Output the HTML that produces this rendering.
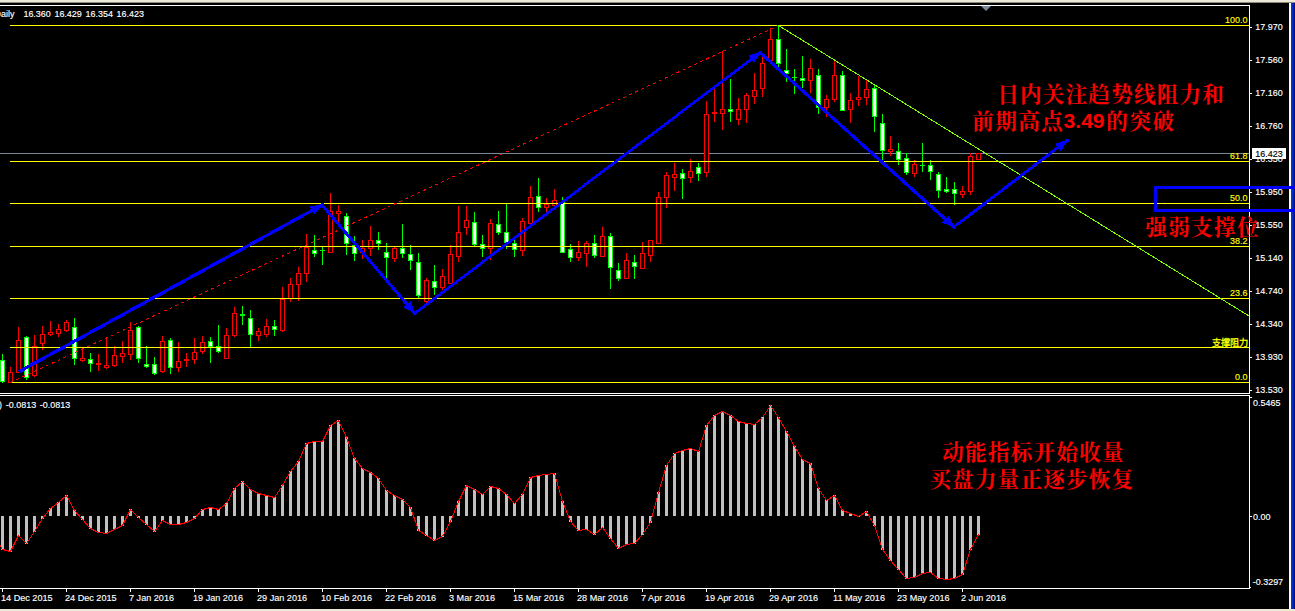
<!DOCTYPE html>
<html><head><meta charset="utf-8"><title>chart</title>
<style>
html,body{margin:0;padding:0;background:#000;overflow:hidden}
svg{display:block}
text{font-family:"Liberation Sans",sans-serif;}
</style></head><body>
<svg width="1295" height="611" viewBox="0 0 1295 611">
<rect x="0" y="0" width="1295" height="611" fill="#000"/>
<g shape-rendering="crispEdges">
<rect x="0" y="0" width="1295" height="2" fill="#ece9d8"/><rect x="0" y="2" width="1295" height="1" fill="#8c8a7d"/><rect x="0" y="609" width="1295" height="2" fill="#ece9d8"/><rect x="0" y="5" width="1250" height="1" fill="#fff"/><rect x="1249" y="5" width="1" height="389" fill="#fff"/><rect x="0" y="393" width="1250" height="1" fill="#fff"/><rect x="0" y="395" width="1250" height="1" fill="#fff"/><rect x="1249" y="395" width="1" height="194" fill="#fff"/><rect x="0" y="588" width="1250" height="1" fill="#fff"/><rect x="1289" y="3" width="1" height="606" fill="#fffef2"/><rect x="1290" y="3" width="1" height="606" fill="#fff"/><rect x="1291" y="3" width="1" height="606" fill="#0831d9"/><rect x="1292" y="3" width="1" height="606" fill="#0430c8"/><rect x="1293" y="3" width="1" height="606" fill="#001ea0"/><rect x="1294" y="3" width="1" height="606" fill="#00138c"/>
</g>
<g shape-rendering="crispEdges"><rect x="0" y="153" width="1249" height="1" fill="#778899"/></g>
<g shape-rendering="crispEdges">
<rect x="2" y="354" width="1" height="29" fill="#00ff00"/><rect x="0" y="360" width="5" height="22" fill="#00ff00"/><rect x="1" y="361" width="3" height="20" fill="#fff"/><rect x="10" y="367" width="1" height="16" fill="#ff0000"/><rect x="8" y="372" width="5" height="11" fill="#ff0000"/><rect x="9" y="373" width="3" height="9" fill="#000"/><rect x="18" y="327" width="1" height="46" fill="#ff0000"/><rect x="16" y="340" width="5" height="33" fill="#ff0000"/><rect x="17" y="341" width="3" height="31" fill="#000"/><rect x="26" y="336" width="1" height="44" fill="#00ff00"/><rect x="24" y="337" width="5" height="41" fill="#00ff00"/><rect x="25" y="338" width="3" height="39" fill="#fff"/><rect x="34" y="335" width="1" height="42" fill="#ff0000"/><rect x="32" y="346" width="5" height="30" fill="#ff0000"/><rect x="33" y="347" width="3" height="28" fill="#000"/><rect x="42" y="326" width="1" height="24" fill="#ff0000"/><rect x="40" y="334" width="5" height="10" fill="#ff0000"/><rect x="41" y="335" width="3" height="8" fill="#000"/><rect x="50" y="321" width="1" height="15" fill="#ff0000"/><rect x="48" y="332" width="5" height="3" fill="#ff0000"/><rect x="49" y="333" width="3" height="1" fill="#000"/><rect x="58" y="324" width="1" height="13" fill="#ff0000"/><rect x="56" y="329" width="5" height="5" fill="#ff0000"/><rect x="57" y="330" width="3" height="3" fill="#000"/><rect x="66" y="320" width="1" height="12" fill="#ff0000"/><rect x="64" y="322" width="5" height="9" fill="#ff0000"/><rect x="65" y="323" width="3" height="7" fill="#000"/><rect x="74" y="318" width="1" height="47" fill="#00ff00"/><rect x="72" y="327" width="5" height="32" fill="#00ff00"/><rect x="73" y="328" width="3" height="30" fill="#fff"/><rect x="82" y="348" width="1" height="14" fill="#ff0000"/><rect x="80" y="358" width="5" height="3" fill="#ff0000"/><rect x="81" y="359" width="3" height="1" fill="#000"/><rect x="90" y="353" width="1" height="19" fill="#00ff00"/><rect x="88" y="359" width="5" height="5" fill="#00ff00"/><rect x="89" y="360" width="3" height="3" fill="#fff"/><rect x="98" y="354" width="1" height="17" fill="#ff0000"/><rect x="96" y="363" width="5" height="2" fill="#ff0000"/><rect x="106" y="337" width="1" height="32" fill="#ff0000"/><rect x="104" y="365" width="5" height="3" fill="#ff0000"/><rect x="105" y="366" width="3" height="1" fill="#000"/><rect x="114" y="346" width="1" height="21" fill="#ff0000"/><rect x="112" y="355" width="5" height="11" fill="#ff0000"/><rect x="113" y="356" width="3" height="9" fill="#000"/><rect x="122" y="341" width="1" height="22" fill="#ff0000"/><rect x="120" y="353" width="5" height="4" fill="#ff0000"/><rect x="121" y="354" width="3" height="2" fill="#000"/><rect x="130" y="322" width="1" height="38" fill="#ff0000"/><rect x="128" y="330" width="5" height="25" fill="#ff0000"/><rect x="129" y="331" width="3" height="23" fill="#000"/><rect x="138" y="326" width="1" height="37" fill="#00ff00"/><rect x="136" y="327" width="5" height="32" fill="#00ff00"/><rect x="137" y="328" width="3" height="30" fill="#fff"/><rect x="146" y="346" width="1" height="22" fill="#00ff00"/><rect x="144" y="364" width="5" height="3" fill="#00ff00"/><rect x="145" y="365" width="3" height="1" fill="#fff"/><rect x="154" y="357" width="1" height="18" fill="#00ff00"/><rect x="152" y="364" width="5" height="10" fill="#00ff00"/><rect x="153" y="365" width="3" height="8" fill="#fff"/><rect x="162" y="336" width="1" height="37" fill="#ff0000"/><rect x="160" y="341" width="5" height="31" fill="#ff0000"/><rect x="161" y="342" width="3" height="29" fill="#000"/><rect x="170" y="338" width="1" height="36" fill="#00ff00"/><rect x="168" y="340" width="5" height="28" fill="#00ff00"/><rect x="169" y="341" width="3" height="26" fill="#fff"/><rect x="178" y="342" width="1" height="30" fill="#ff0000"/><rect x="176" y="361" width="5" height="7" fill="#ff0000"/><rect x="177" y="362" width="3" height="5" fill="#000"/><rect x="186" y="353" width="1" height="14" fill="#ff0000"/><rect x="184" y="359" width="5" height="2" fill="#ff0000"/><rect x="194" y="338" width="1" height="26" fill="#ff0000"/><rect x="192" y="352" width="5" height="8" fill="#ff0000"/><rect x="193" y="353" width="3" height="6" fill="#000"/><rect x="202" y="336" width="1" height="18" fill="#ff0000"/><rect x="200" y="342" width="5" height="10" fill="#ff0000"/><rect x="201" y="343" width="3" height="8" fill="#000"/><rect x="210" y="337" width="1" height="26" fill="#00ff00"/><rect x="208" y="341" width="5" height="6" fill="#00ff00"/><rect x="209" y="342" width="3" height="4" fill="#fff"/><rect x="218" y="325" width="1" height="28" fill="#00ff00"/><rect x="216" y="346" width="5" height="6" fill="#00ff00"/><rect x="217" y="347" width="3" height="4" fill="#fff"/><rect x="226" y="328" width="1" height="31" fill="#ff0000"/><rect x="224" y="335" width="5" height="24" fill="#ff0000"/><rect x="225" y="336" width="3" height="22" fill="#000"/><rect x="234" y="307" width="1" height="30" fill="#ff0000"/><rect x="232" y="313" width="5" height="23" fill="#ff0000"/><rect x="233" y="314" width="3" height="21" fill="#000"/><rect x="242" y="306" width="1" height="19" fill="#00ff00"/><rect x="240" y="314" width="5" height="2" fill="#00ff00"/><rect x="250" y="310" width="1" height="38" fill="#00ff00"/><rect x="248" y="318" width="5" height="17" fill="#00ff00"/><rect x="249" y="319" width="3" height="15" fill="#fff"/><rect x="258" y="328" width="1" height="13" fill="#ff0000"/><rect x="256" y="331" width="5" height="5" fill="#ff0000"/><rect x="257" y="332" width="3" height="3" fill="#000"/><rect x="266" y="319" width="1" height="18" fill="#ff0000"/><rect x="264" y="326" width="5" height="9" fill="#ff0000"/><rect x="265" y="327" width="3" height="7" fill="#000"/><rect x="274" y="320" width="1" height="16" fill="#00ff00"/><rect x="272" y="326" width="5" height="4" fill="#00ff00"/><rect x="273" y="327" width="3" height="2" fill="#fff"/><rect x="282" y="287" width="1" height="45" fill="#ff0000"/><rect x="280" y="299" width="5" height="32" fill="#ff0000"/><rect x="281" y="300" width="3" height="30" fill="#000"/><rect x="290" y="278" width="1" height="24" fill="#ff0000"/><rect x="288" y="284" width="5" height="15" fill="#ff0000"/><rect x="289" y="285" width="3" height="13" fill="#000"/><rect x="298" y="267" width="1" height="34" fill="#ff0000"/><rect x="296" y="273" width="5" height="12" fill="#ff0000"/><rect x="297" y="274" width="3" height="10" fill="#000"/><rect x="306" y="234" width="1" height="48" fill="#ff0000"/><rect x="304" y="247" width="5" height="27" fill="#ff0000"/><rect x="305" y="248" width="3" height="25" fill="#000"/><rect x="314" y="235" width="1" height="22" fill="#00ff00"/><rect x="312" y="250" width="5" height="4" fill="#00ff00"/><rect x="313" y="251" width="3" height="2" fill="#fff"/><rect x="322" y="247" width="1" height="18" fill="#00ff00"/><rect x="320" y="250" width="5" height="1" fill="#00ff00"/><rect x="330" y="193" width="1" height="60" fill="#ff0000"/><rect x="328" y="211" width="5" height="42" fill="#ff0000"/><rect x="329" y="212" width="3" height="40" fill="#000"/><rect x="338" y="205" width="1" height="17" fill="#ff0000"/><rect x="336" y="211" width="5" height="3" fill="#ff0000"/><rect x="337" y="212" width="3" height="1" fill="#000"/><rect x="346" y="213" width="1" height="42" fill="#00ff00"/><rect x="344" y="216" width="5" height="28" fill="#00ff00"/><rect x="345" y="217" width="3" height="26" fill="#fff"/><rect x="354" y="236" width="1" height="25" fill="#00ff00"/><rect x="352" y="245" width="5" height="9" fill="#00ff00"/><rect x="353" y="246" width="3" height="7" fill="#fff"/><rect x="362" y="240" width="1" height="19" fill="#ff0000"/><rect x="360" y="248" width="5" height="5" fill="#ff0000"/><rect x="361" y="249" width="3" height="3" fill="#000"/><rect x="370" y="226" width="1" height="30" fill="#ff0000"/><rect x="368" y="240" width="5" height="9" fill="#ff0000"/><rect x="369" y="241" width="3" height="7" fill="#000"/><rect x="378" y="232" width="1" height="18" fill="#00ff00"/><rect x="376" y="240" width="5" height="4" fill="#00ff00"/><rect x="377" y="241" width="3" height="2" fill="#fff"/><rect x="386" y="243" width="1" height="35" fill="#00ff00"/><rect x="384" y="252" width="5" height="6" fill="#00ff00"/><rect x="385" y="253" width="3" height="4" fill="#fff"/><rect x="394" y="247" width="1" height="15" fill="#ff0000"/><rect x="392" y="248" width="5" height="11" fill="#ff0000"/><rect x="393" y="249" width="3" height="9" fill="#000"/><rect x="402" y="224" width="1" height="34" fill="#00ff00"/><rect x="400" y="248" width="5" height="6" fill="#00ff00"/><rect x="401" y="249" width="3" height="4" fill="#fff"/><rect x="410" y="245" width="1" height="25" fill="#00ff00"/><rect x="408" y="254" width="5" height="7" fill="#00ff00"/><rect x="409" y="255" width="3" height="5" fill="#fff"/><rect x="418" y="253" width="1" height="45" fill="#00ff00"/><rect x="416" y="262" width="5" height="34" fill="#00ff00"/><rect x="417" y="263" width="3" height="32" fill="#fff"/><rect x="426" y="278" width="1" height="25" fill="#ff0000"/><rect x="424" y="280" width="5" height="22" fill="#ff0000"/><rect x="425" y="281" width="3" height="20" fill="#000"/><rect x="434" y="265" width="1" height="30" fill="#00ff00"/><rect x="432" y="281" width="5" height="7" fill="#00ff00"/><rect x="433" y="282" width="3" height="5" fill="#fff"/><rect x="442" y="269" width="1" height="21" fill="#ff0000"/><rect x="440" y="276" width="5" height="12" fill="#ff0000"/><rect x="441" y="277" width="3" height="10" fill="#000"/><rect x="450" y="245" width="1" height="39" fill="#ff0000"/><rect x="448" y="254" width="5" height="30" fill="#ff0000"/><rect x="449" y="255" width="3" height="28" fill="#000"/><rect x="458" y="206" width="1" height="56" fill="#ff0000"/><rect x="456" y="232" width="5" height="25" fill="#ff0000"/><rect x="457" y="233" width="3" height="23" fill="#000"/><rect x="466" y="206" width="1" height="29" fill="#ff0000"/><rect x="464" y="220" width="5" height="8" fill="#ff0000"/><rect x="465" y="221" width="3" height="6" fill="#000"/><rect x="474" y="212" width="1" height="34" fill="#00ff00"/><rect x="472" y="222" width="5" height="23" fill="#00ff00"/><rect x="473" y="223" width="3" height="21" fill="#fff"/><rect x="482" y="235" width="1" height="22" fill="#00ff00"/><rect x="480" y="244" width="5" height="5" fill="#00ff00"/><rect x="481" y="245" width="3" height="3" fill="#fff"/><rect x="490" y="219" width="1" height="41" fill="#ff0000"/><rect x="488" y="223" width="5" height="26" fill="#ff0000"/><rect x="489" y="224" width="3" height="24" fill="#000"/><rect x="498" y="211" width="1" height="24" fill="#00ff00"/><rect x="496" y="224" width="5" height="9" fill="#00ff00"/><rect x="497" y="225" width="3" height="7" fill="#fff"/><rect x="506" y="204" width="1" height="45" fill="#00ff00"/><rect x="504" y="232" width="5" height="11" fill="#00ff00"/><rect x="505" y="233" width="3" height="9" fill="#fff"/><rect x="514" y="240" width="1" height="17" fill="#00ff00"/><rect x="512" y="243" width="5" height="7" fill="#00ff00"/><rect x="513" y="244" width="3" height="5" fill="#fff"/><rect x="522" y="218" width="1" height="38" fill="#ff0000"/><rect x="520" y="221" width="5" height="30" fill="#ff0000"/><rect x="521" y="222" width="3" height="28" fill="#000"/><rect x="530" y="186" width="1" height="38" fill="#ff0000"/><rect x="528" y="197" width="5" height="27" fill="#ff0000"/><rect x="529" y="198" width="3" height="25" fill="#000"/><rect x="538" y="178" width="1" height="34" fill="#00ff00"/><rect x="536" y="196" width="5" height="12" fill="#00ff00"/><rect x="537" y="197" width="3" height="10" fill="#fff"/><rect x="546" y="198" width="1" height="14" fill="#ff0000"/><rect x="544" y="204" width="5" height="4" fill="#ff0000"/><rect x="545" y="205" width="3" height="2" fill="#000"/><rect x="554" y="189" width="1" height="21" fill="#ff0000"/><rect x="552" y="200" width="5" height="6" fill="#ff0000"/><rect x="553" y="201" width="3" height="4" fill="#000"/><rect x="562" y="197" width="1" height="56" fill="#00ff00"/><rect x="560" y="202" width="5" height="51" fill="#00ff00"/><rect x="561" y="203" width="3" height="49" fill="#fff"/><rect x="570" y="244" width="1" height="18" fill="#00ff00"/><rect x="568" y="249" width="5" height="9" fill="#00ff00"/><rect x="569" y="250" width="3" height="7" fill="#fff"/><rect x="578" y="241" width="1" height="20" fill="#ff0000"/><rect x="576" y="252" width="5" height="6" fill="#ff0000"/><rect x="577" y="253" width="3" height="4" fill="#000"/><rect x="586" y="241" width="1" height="26" fill="#ff0000"/><rect x="584" y="243" width="5" height="11" fill="#ff0000"/><rect x="585" y="244" width="3" height="9" fill="#000"/><rect x="594" y="235" width="1" height="23" fill="#00ff00"/><rect x="592" y="243" width="5" height="13" fill="#00ff00"/><rect x="593" y="244" width="3" height="11" fill="#fff"/><rect x="602" y="227" width="1" height="30" fill="#ff0000"/><rect x="600" y="236" width="5" height="21" fill="#ff0000"/><rect x="601" y="237" width="3" height="19" fill="#000"/><rect x="610" y="233" width="1" height="56" fill="#00ff00"/><rect x="608" y="236" width="5" height="32" fill="#00ff00"/><rect x="609" y="237" width="3" height="30" fill="#fff"/><rect x="618" y="263" width="1" height="18" fill="#00ff00"/><rect x="616" y="270" width="5" height="9" fill="#00ff00"/><rect x="617" y="271" width="3" height="7" fill="#fff"/><rect x="626" y="253" width="1" height="26" fill="#ff0000"/><rect x="624" y="260" width="5" height="19" fill="#ff0000"/><rect x="625" y="261" width="3" height="17" fill="#000"/><rect x="634" y="255" width="1" height="24" fill="#00ff00"/><rect x="632" y="262" width="5" height="5" fill="#00ff00"/><rect x="633" y="263" width="3" height="3" fill="#fff"/><rect x="642" y="242" width="1" height="27" fill="#ff0000"/><rect x="640" y="253" width="5" height="16" fill="#ff0000"/><rect x="641" y="254" width="3" height="14" fill="#000"/><rect x="650" y="240" width="1" height="22" fill="#ff0000"/><rect x="648" y="240" width="5" height="16" fill="#ff0000"/><rect x="649" y="241" width="3" height="14" fill="#000"/><rect x="658" y="192" width="1" height="52" fill="#ff0000"/><rect x="656" y="197" width="5" height="47" fill="#ff0000"/><rect x="657" y="198" width="3" height="45" fill="#000"/><rect x="666" y="172" width="1" height="36" fill="#ff0000"/><rect x="664" y="175" width="5" height="23" fill="#ff0000"/><rect x="665" y="176" width="3" height="21" fill="#000"/><rect x="674" y="163" width="1" height="28" fill="#ff0000"/><rect x="672" y="174" width="5" height="4" fill="#ff0000"/><rect x="673" y="175" width="3" height="2" fill="#000"/><rect x="682" y="169" width="1" height="30" fill="#00ff00"/><rect x="680" y="173" width="5" height="6" fill="#00ff00"/><rect x="681" y="174" width="3" height="4" fill="#fff"/><rect x="690" y="159" width="1" height="24" fill="#ff0000"/><rect x="688" y="171" width="5" height="7" fill="#ff0000"/><rect x="689" y="172" width="3" height="5" fill="#000"/><rect x="698" y="163" width="1" height="18" fill="#00ff00"/><rect x="696" y="167" width="5" height="7" fill="#00ff00"/><rect x="697" y="168" width="3" height="5" fill="#fff"/><rect x="706" y="101" width="1" height="76" fill="#ff0000"/><rect x="704" y="114" width="5" height="59" fill="#ff0000"/><rect x="705" y="115" width="3" height="57" fill="#000"/><rect x="714" y="88" width="1" height="34" fill="#ff0000"/><rect x="712" y="112" width="5" height="2" fill="#ff0000"/><rect x="722" y="51" width="1" height="79" fill="#ff0000"/><rect x="720" y="109" width="5" height="5" fill="#ff0000"/><rect x="721" y="110" width="3" height="3" fill="#000"/><rect x="730" y="79" width="1" height="43" fill="#00ff00"/><rect x="728" y="109" width="5" height="3" fill="#00ff00"/><rect x="729" y="110" width="3" height="1" fill="#fff"/><rect x="738" y="98" width="1" height="27" fill="#ff0000"/><rect x="736" y="109" width="5" height="11" fill="#ff0000"/><rect x="737" y="110" width="3" height="9" fill="#000"/><rect x="746" y="93" width="1" height="30" fill="#ff0000"/><rect x="744" y="95" width="5" height="15" fill="#ff0000"/><rect x="745" y="96" width="3" height="13" fill="#000"/><rect x="754" y="73" width="1" height="31" fill="#ff0000"/><rect x="752" y="90" width="5" height="7" fill="#ff0000"/><rect x="753" y="91" width="3" height="5" fill="#000"/><rect x="762" y="57" width="1" height="40" fill="#ff0000"/><rect x="760" y="63" width="5" height="26" fill="#ff0000"/><rect x="761" y="64" width="3" height="24" fill="#000"/><rect x="770" y="28" width="1" height="33" fill="#ff0000"/><rect x="768" y="39" width="5" height="22" fill="#ff0000"/><rect x="769" y="40" width="3" height="20" fill="#000"/><rect x="778" y="26" width="1" height="42" fill="#00ff00"/><rect x="776" y="39" width="5" height="25" fill="#00ff00"/><rect x="777" y="40" width="3" height="23" fill="#fff"/><rect x="786" y="49" width="1" height="33" fill="#00ff00"/><rect x="784" y="70" width="5" height="4" fill="#00ff00"/><rect x="785" y="71" width="3" height="2" fill="#fff"/><rect x="794" y="69" width="1" height="25" fill="#00ff00"/><rect x="792" y="77" width="5" height="1" fill="#00ff00"/><rect x="802" y="56" width="1" height="32" fill="#00ff00"/><rect x="800" y="78" width="5" height="3" fill="#00ff00"/><rect x="801" y="79" width="3" height="1" fill="#fff"/><rect x="810" y="59" width="1" height="34" fill="#ff0000"/><rect x="808" y="68" width="5" height="13" fill="#ff0000"/><rect x="809" y="69" width="3" height="11" fill="#000"/><rect x="818" y="69" width="1" height="45" fill="#00ff00"/><rect x="816" y="75" width="5" height="33" fill="#00ff00"/><rect x="817" y="76" width="3" height="31" fill="#fff"/><rect x="826" y="95" width="1" height="22" fill="#ff0000"/><rect x="824" y="99" width="5" height="9" fill="#ff0000"/><rect x="825" y="100" width="3" height="7" fill="#000"/><rect x="834" y="61" width="1" height="41" fill="#ff0000"/><rect x="832" y="75" width="5" height="25" fill="#ff0000"/><rect x="833" y="76" width="3" height="23" fill="#000"/><rect x="842" y="71" width="1" height="40" fill="#00ff00"/><rect x="840" y="75" width="5" height="36" fill="#00ff00"/><rect x="841" y="76" width="3" height="34" fill="#fff"/><rect x="850" y="93" width="1" height="30" fill="#ff0000"/><rect x="848" y="100" width="5" height="10" fill="#ff0000"/><rect x="849" y="101" width="3" height="8" fill="#000"/><rect x="858" y="76" width="1" height="30" fill="#ff0000"/><rect x="856" y="97" width="5" height="3" fill="#ff0000"/><rect x="857" y="98" width="3" height="1" fill="#000"/><rect x="866" y="80" width="1" height="25" fill="#ff0000"/><rect x="864" y="89" width="5" height="9" fill="#ff0000"/><rect x="865" y="90" width="3" height="7" fill="#000"/><rect x="874" y="85" width="1" height="47" fill="#00ff00"/><rect x="872" y="88" width="5" height="29" fill="#00ff00"/><rect x="873" y="89" width="3" height="27" fill="#fff"/><rect x="882" y="114" width="1" height="47" fill="#00ff00"/><rect x="880" y="123" width="5" height="28" fill="#00ff00"/><rect x="881" y="124" width="3" height="26" fill="#fff"/><rect x="890" y="136" width="1" height="20" fill="#ff0000"/><rect x="888" y="149" width="5" height="3" fill="#ff0000"/><rect x="889" y="150" width="3" height="1" fill="#000"/><rect x="898" y="143" width="1" height="22" fill="#00ff00"/><rect x="896" y="151" width="5" height="9" fill="#00ff00"/><rect x="897" y="152" width="3" height="7" fill="#fff"/><rect x="906" y="153" width="1" height="22" fill="#00ff00"/><rect x="904" y="158" width="5" height="15" fill="#00ff00"/><rect x="905" y="159" width="3" height="13" fill="#fff"/><rect x="914" y="160" width="1" height="17" fill="#ff0000"/><rect x="912" y="164" width="5" height="10" fill="#ff0000"/><rect x="913" y="165" width="3" height="8" fill="#000"/><rect x="922" y="143" width="1" height="29" fill="#00ff00"/><rect x="920" y="165" width="5" height="1" fill="#00ff00"/><rect x="930" y="160" width="1" height="20" fill="#00ff00"/><rect x="928" y="165" width="5" height="7" fill="#00ff00"/><rect x="929" y="166" width="3" height="5" fill="#fff"/><rect x="938" y="172" width="1" height="26" fill="#00ff00"/><rect x="936" y="174" width="5" height="17" fill="#00ff00"/><rect x="937" y="175" width="3" height="15" fill="#fff"/><rect x="946" y="177" width="1" height="16" fill="#00ff00"/><rect x="944" y="189" width="5" height="3" fill="#00ff00"/><rect x="945" y="190" width="3" height="1" fill="#fff"/><rect x="954" y="182" width="1" height="23" fill="#00ff00"/><rect x="952" y="189" width="5" height="5" fill="#00ff00"/><rect x="953" y="190" width="3" height="3" fill="#fff"/><rect x="962" y="186" width="1" height="12" fill="#ff0000"/><rect x="960" y="191" width="5" height="4" fill="#ff0000"/><rect x="961" y="192" width="3" height="2" fill="#000"/><rect x="970" y="153" width="1" height="42" fill="#ff0000"/><rect x="968" y="156" width="5" height="36" fill="#ff0000"/><rect x="969" y="157" width="3" height="34" fill="#000"/><rect x="978" y="153" width="1" height="7" fill="#ff0000"/><rect x="976" y="153" width="5" height="7" fill="#ff0000"/><rect x="977" y="154" width="3" height="5" fill="#000"/>
</g>
<g shape-rendering="crispEdges">
<rect x="10" y="25" width="1239" height="1" fill="#ffff00"/><rect x="10" y="161" width="1239" height="1" fill="#ffff00"/><rect x="10" y="203" width="1239" height="1" fill="#ffff00"/><rect x="10" y="246" width="1239" height="1" fill="#ffff00"/><rect x="10" y="298" width="1239" height="1" fill="#ffff00"/><rect x="10" y="347" width="1239" height="1" fill="#ffff00"/><rect x="10" y="382" width="1239" height="1" fill="#ffff00"/>
</g>
<line x1="10.5" y1="382.5" x2="778.5" y2="25.5" stroke="#ff0000" stroke-width="1" stroke-dasharray="3 3.5" shape-rendering="crispEdges"/>
<line x1="778.5" y1="25.5" x2="1249" y2="316" stroke="#7fff00" stroke-width="1" shape-rendering="crispEdges"/>
<g stroke="#0000ff" fill="#0000ff" shape-rendering="crispEdges">
<line x1="19" y1="371.7" x2="322" y2="205" stroke-width="3.3"/><polygon stroke="none" points="322.9,204.5 314.2,214.7 309.6,206.3"/><circle stroke="none" cx="322" cy="205" r="2"/><line x1="322" y1="205" x2="414.5" y2="313" stroke-width="3.1"/><polygon stroke="none" points="415.2,313.8 403.4,307.4 410.7,301.1"/><circle stroke="none" cx="414.5" cy="313" r="2"/><line x1="415.3" y1="313" x2="760.3" y2="52.5" stroke-width="2.8"/><polygon stroke="none" points="761.1,51.9 754.0,63.3 748.2,55.6"/><circle stroke="none" cx="760.3" cy="52.5" r="2"/><line x1="760.3" y1="52.8" x2="954" y2="226.9" stroke-width="3.2"/><polygon stroke="none" points="954.7,227.6 942.2,222.8 948.7,215.6"/><circle stroke="none" cx="954" cy="226.9" r="2"/><line x1="956" y1="225.5" x2="1067" y2="140.5" stroke-width="3"/><polygon stroke="none" points="1067.8,139.9 1060.8,151.3 1055.0,143.7"/><circle stroke="none" cx="1067" cy="140.5" r="2"/>
</g>
<rect x="1155.5" y="187.5" width="160" height="23" fill="none" stroke="#0000ff" stroke-width="3" shape-rendering="crispEdges"/>
<polygon points="981,6 991,6 986,11" fill="#778899"/>
<g shape-rendering="crispEdges">
<rect x="1" y="516" width="3" height="34" fill="#c0c0c0"/><rect x="9" y="516" width="3" height="36" fill="#c0c0c0"/><rect x="17" y="516" width="3" height="20" fill="#c0c0c0"/><rect x="25" y="516" width="3" height="28" fill="#c0c0c0"/><rect x="33" y="516" width="3" height="16" fill="#c0c0c0"/><rect x="41" y="516" width="3" height="3" fill="#c0c0c0"/><rect x="49" y="508" width="3" height="8" fill="#c0c0c0"/><rect x="57" y="502" width="3" height="14" fill="#c0c0c0"/><rect x="65" y="495" width="3" height="21" fill="#c0c0c0"/><rect x="73" y="510" width="3" height="6" fill="#c0c0c0"/><rect x="81" y="516" width="3" height="4" fill="#c0c0c0"/><rect x="89" y="516" width="3" height="13" fill="#c0c0c0"/><rect x="97" y="516" width="3" height="17" fill="#c0c0c0"/><rect x="105" y="516" width="3" height="18" fill="#c0c0c0"/><rect x="113" y="516" width="3" height="14" fill="#c0c0c0"/><rect x="121" y="516" width="3" height="10" fill="#c0c0c0"/><rect x="129" y="509" width="3" height="7" fill="#c0c0c0"/><rect x="137" y="516" width="3" height="2" fill="#c0c0c0"/><rect x="145" y="516" width="3" height="9" fill="#c0c0c0"/><rect x="153" y="516" width="3" height="16" fill="#c0c0c0"/><rect x="161" y="516" width="3" height="5" fill="#c0c0c0"/><rect x="169" y="516" width="3" height="9" fill="#c0c0c0"/><rect x="177" y="516" width="3" height="9" fill="#c0c0c0"/><rect x="185" y="516" width="3" height="7" fill="#c0c0c0"/><rect x="193" y="516" width="3" height="3" fill="#c0c0c0"/><rect x="201" y="509" width="3" height="7" fill="#c0c0c0"/><rect x="209" y="507" width="3" height="9" fill="#c0c0c0"/><rect x="217" y="509" width="3" height="7" fill="#c0c0c0"/><rect x="225" y="503" width="3" height="13" fill="#c0c0c0"/><rect x="233" y="488" width="3" height="28" fill="#c0c0c0"/><rect x="241" y="481" width="3" height="35" fill="#c0c0c0"/><rect x="249" y="489" width="3" height="27" fill="#c0c0c0"/><rect x="257" y="493" width="3" height="23" fill="#c0c0c0"/><rect x="265" y="495" width="3" height="21" fill="#c0c0c0"/><rect x="273" y="497" width="3" height="19" fill="#c0c0c0"/><rect x="281" y="485" width="3" height="31" fill="#c0c0c0"/><rect x="289" y="471" width="3" height="45" fill="#c0c0c0"/><rect x="297" y="461" width="3" height="55" fill="#c0c0c0"/><rect x="305" y="443" width="3" height="73" fill="#c0c0c0"/><rect x="313" y="441" width="3" height="75" fill="#c0c0c0"/><rect x="321" y="441" width="3" height="75" fill="#c0c0c0"/><rect x="329" y="425" width="3" height="91" fill="#c0c0c0"/><rect x="337" y="420" width="3" height="96" fill="#c0c0c0"/><rect x="345" y="437" width="3" height="79" fill="#c0c0c0"/><rect x="353" y="458" width="3" height="58" fill="#c0c0c0"/><rect x="361" y="468" width="3" height="48" fill="#c0c0c0"/><rect x="369" y="472" width="3" height="44" fill="#c0c0c0"/><rect x="377" y="478" width="3" height="38" fill="#c0c0c0"/><rect x="385" y="490" width="3" height="26" fill="#c0c0c0"/><rect x="393" y="495" width="3" height="21" fill="#c0c0c0"/><rect x="401" y="499" width="3" height="17" fill="#c0c0c0"/><rect x="409" y="507" width="3" height="9" fill="#c0c0c0"/><rect x="417" y="516" width="3" height="15" fill="#c0c0c0"/><rect x="425" y="516" width="3" height="20" fill="#c0c0c0"/><rect x="433" y="516" width="3" height="25" fill="#c0c0c0"/><rect x="441" y="516" width="3" height="21" fill="#c0c0c0"/><rect x="449" y="516" width="3" height="6" fill="#c0c0c0"/><rect x="457" y="501" width="3" height="15" fill="#c0c0c0"/><rect x="465" y="485" width="3" height="31" fill="#c0c0c0"/><rect x="473" y="489" width="3" height="27" fill="#c0c0c0"/><rect x="481" y="494" width="3" height="22" fill="#c0c0c0"/><rect x="489" y="486" width="3" height="30" fill="#c0c0c0"/><rect x="497" y="488" width="3" height="28" fill="#c0c0c0"/><rect x="505" y="494" width="3" height="22" fill="#c0c0c0"/><rect x="513" y="503" width="3" height="13" fill="#c0c0c0"/><rect x="521" y="494" width="3" height="22" fill="#c0c0c0"/><rect x="529" y="477" width="3" height="39" fill="#c0c0c0"/><rect x="537" y="475" width="3" height="41" fill="#c0c0c0"/><rect x="545" y="474" width="3" height="42" fill="#c0c0c0"/><rect x="553" y="473" width="3" height="43" fill="#c0c0c0"/><rect x="561" y="501" width="3" height="15" fill="#c0c0c0"/><rect x="569" y="516" width="3" height="6" fill="#c0c0c0"/><rect x="577" y="516" width="3" height="15" fill="#c0c0c0"/><rect x="585" y="516" width="3" height="14" fill="#c0c0c0"/><rect x="593" y="516" width="3" height="19" fill="#c0c0c0"/><rect x="601" y="516" width="3" height="12" fill="#c0c0c0"/><rect x="609" y="516" width="3" height="23" fill="#c0c0c0"/><rect x="617" y="516" width="3" height="33" fill="#c0c0c0"/><rect x="625" y="516" width="3" height="29" fill="#c0c0c0"/><rect x="633" y="516" width="3" height="28" fill="#c0c0c0"/><rect x="641" y="516" width="3" height="19" fill="#c0c0c0"/><rect x="649" y="516" width="3" height="7" fill="#c0c0c0"/><rect x="657" y="492" width="3" height="24" fill="#c0c0c0"/><rect x="665" y="465" width="3" height="51" fill="#c0c0c0"/><rect x="673" y="453" width="3" height="63" fill="#c0c0c0"/><rect x="681" y="450" width="3" height="66" fill="#c0c0c0"/><rect x="689" y="448" width="3" height="68" fill="#c0c0c0"/><rect x="697" y="451" width="3" height="65" fill="#c0c0c0"/><rect x="705" y="425" width="3" height="91" fill="#c0c0c0"/><rect x="713" y="415" width="3" height="101" fill="#c0c0c0"/><rect x="721" y="411" width="3" height="105" fill="#c0c0c0"/><rect x="729" y="415" width="3" height="101" fill="#c0c0c0"/><rect x="737" y="421" width="3" height="95" fill="#c0c0c0"/><rect x="745" y="423" width="3" height="93" fill="#c0c0c0"/><rect x="753" y="424" width="3" height="92" fill="#c0c0c0"/><rect x="761" y="417" width="3" height="99" fill="#c0c0c0"/><rect x="769" y="405" width="3" height="111" fill="#c0c0c0"/><rect x="777" y="417" width="3" height="99" fill="#c0c0c0"/><rect x="785" y="431" width="3" height="85" fill="#c0c0c0"/><rect x="793" y="446" width="3" height="70" fill="#c0c0c0"/><rect x="801" y="459" width="3" height="57" fill="#c0c0c0"/><rect x="809" y="463" width="3" height="53" fill="#c0c0c0"/><rect x="817" y="488" width="3" height="28" fill="#c0c0c0"/><rect x="825" y="500" width="3" height="16" fill="#c0c0c0"/><rect x="833" y="495" width="3" height="21" fill="#c0c0c0"/><rect x="841" y="510" width="3" height="6" fill="#c0c0c0"/><rect x="849" y="513" width="3" height="3" fill="#c0c0c0"/><rect x="857" y="516" width="3" height="1" fill="#c0c0c0"/><rect x="865" y="511" width="3" height="5" fill="#c0c0c0"/><rect x="873" y="516" width="3" height="10" fill="#c0c0c0"/><rect x="881" y="516" width="3" height="34" fill="#c0c0c0"/><rect x="889" y="516" width="3" height="45" fill="#c0c0c0"/><rect x="897" y="516" width="3" height="54" fill="#c0c0c0"/><rect x="905" y="516" width="3" height="63" fill="#c0c0c0"/><rect x="913" y="516" width="3" height="62" fill="#c0c0c0"/><rect x="921" y="516" width="3" height="58" fill="#c0c0c0"/><rect x="929" y="516" width="3" height="57" fill="#c0c0c0"/><rect x="937" y="516" width="3" height="63" fill="#c0c0c0"/><rect x="945" y="516" width="3" height="64" fill="#c0c0c0"/><rect x="953" y="516" width="3" height="63" fill="#c0c0c0"/><rect x="961" y="516" width="3" height="59" fill="#c0c0c0"/><rect x="969" y="516" width="3" height="34" fill="#c0c0c0"/><rect x="977" y="516" width="3" height="19" fill="#c0c0c0"/>
</g>
<polyline points="-5.5,535.5 2.5,549.5 10.5,551.5 18.5,535.5 26.5,543.5 34.5,531.5 42.5,518.5 50.5,508.5 58.5,502.5 66.5,495.5 74.5,510.5 82.5,519.5 90.5,528.5 98.5,532.5 106.5,533.5 114.5,529.5 122.5,525.5 130.5,509.5 138.5,517.5 146.5,524.5 154.5,531.5 162.5,520.5 170.5,524.5 178.5,524.5 186.5,522.5 194.5,518.5 202.5,509.5 210.5,507.5 218.5,509.5 226.5,503.5 234.5,488.5 242.5,481.5 250.5,489.5 258.5,493.5 266.5,495.5 274.5,497.5 282.5,485.5 290.5,471.5 298.5,461.5 306.5,443.5 314.5,441.5 322.5,441.5 330.5,425.5 338.5,420.5 346.5,437.5 354.5,458.5 362.5,468.5 370.5,472.5 378.5,478.5 386.5,490.5 394.5,495.5 402.5,499.5 410.5,507.5 418.5,530.5 426.5,535.5 434.5,540.5 442.5,536.5 450.5,521.5 458.5,501.5 466.5,485.5 474.5,489.5 482.5,494.5 490.5,486.5 498.5,488.5 506.5,494.5 514.5,503.5 522.5,494.5 530.5,477.5 538.5,475.5 546.5,474.5 554.5,473.5 562.5,501.5 570.5,521.5 578.5,530.5 586.5,529.5 594.5,534.5 602.5,527.5 610.5,538.5 618.5,548.5 626.5,544.5 634.5,543.5 642.5,534.5 650.5,522.5 658.5,492.5 666.5,465.5 674.5,453.5 682.5,450.5 690.5,448.5 698.5,451.5 706.5,425.5 714.5,415.5 722.5,411.5 730.5,415.5 738.5,421.5 746.5,423.5 754.5,424.5 762.5,417.5 770.5,405.5 778.5,417.5 786.5,431.5 794.5,446.5 802.5,459.5 810.5,463.5 818.5,488.5 826.5,500.5 834.5,495.5 842.5,510.5 850.5,513.5 858.5,516.5 866.5,511.5 874.5,525.5 882.5,549.5 890.5,560.5 898.5,569.5 906.5,578.5 914.5,577.5 922.5,573.5 930.5,572.5 938.5,578.5 946.5,579.5 954.5,578.5 962.5,574.5 970.5,549.5 978.5,534.5" fill="none" stroke="#ff0000" stroke-width="1" shape-rendering="crispEdges"/>
<g shape-rendering="crispEdges">
<rect x="1250" y="27" width="2" height="1" fill="#fff"/><rect x="1250" y="60" width="2" height="1" fill="#fff"/><rect x="1250" y="93" width="2" height="1" fill="#fff"/><rect x="1250" y="126" width="2" height="1" fill="#fff"/><rect x="1250" y="159" width="2" height="1" fill="#fff"/><rect x="1250" y="192" width="2" height="1" fill="#fff"/><rect x="1250" y="225" width="2" height="1" fill="#fff"/><rect x="1250" y="258" width="2" height="1" fill="#fff"/><rect x="1250" y="291" width="2" height="1" fill="#fff"/><rect x="1250" y="324" width="2" height="1" fill="#fff"/><rect x="1250" y="357" width="2" height="1" fill="#fff"/><rect x="1250" y="390" width="2" height="1" fill="#fff"/><rect x="1250" y="397" width="2" height="1" fill="#fff"/><rect x="1250" y="516" width="2" height="1" fill="#fff"/><rect x="1250" y="587" width="1" height="1" fill="#fff"/><rect x="2" y="589" width="1" height="3" fill="#fff"/><rect x="66" y="589" width="1" height="3" fill="#fff"/><rect x="130" y="589" width="1" height="3" fill="#fff"/><rect x="194" y="589" width="1" height="3" fill="#fff"/><rect x="258" y="589" width="1" height="3" fill="#fff"/><rect x="322" y="589" width="1" height="3" fill="#fff"/><rect x="386" y="589" width="1" height="3" fill="#fff"/><rect x="450" y="589" width="1" height="3" fill="#fff"/><rect x="514" y="589" width="1" height="3" fill="#fff"/><rect x="578" y="589" width="1" height="3" fill="#fff"/><rect x="642" y="589" width="1" height="3" fill="#fff"/><rect x="706" y="589" width="1" height="3" fill="#fff"/><rect x="770" y="589" width="1" height="3" fill="#fff"/><rect x="834" y="589" width="1" height="3" fill="#fff"/><rect x="898" y="589" width="1" height="3" fill="#fff"/><rect x="962" y="589" width="1" height="3" fill="#fff"/>
</g>
<text transform="translate(1255.3,30.2) scale(0.92,1)" font-size="9.75px" fill="#fff" stroke="#fff" stroke-width="0.15" text-anchor="start">17.970</text><text transform="translate(1255.3,63.2) scale(0.92,1)" font-size="9.75px" fill="#fff" stroke="#fff" stroke-width="0.15" text-anchor="start">17.560</text><text transform="translate(1255.3,96.2) scale(0.92,1)" font-size="9.75px" fill="#fff" stroke="#fff" stroke-width="0.15" text-anchor="start">17.160</text><text transform="translate(1255.3,129.2) scale(0.92,1)" font-size="9.75px" fill="#fff" stroke="#fff" stroke-width="0.15" text-anchor="start">16.760</text><text transform="translate(1255.3,162.2) scale(0.92,1)" font-size="9.75px" fill="#fff" stroke="#fff" stroke-width="0.15" text-anchor="start">16.350</text><text transform="translate(1255.3,195.2) scale(0.92,1)" font-size="9.75px" fill="#fff" stroke="#fff" stroke-width="0.15" text-anchor="start">15.950</text><text transform="translate(1255.3,228.2) scale(0.92,1)" font-size="9.75px" fill="#fff" stroke="#fff" stroke-width="0.15" text-anchor="start">15.550</text><text transform="translate(1255.3,261.2) scale(0.92,1)" font-size="9.75px" fill="#fff" stroke="#fff" stroke-width="0.15" text-anchor="start">15.140</text><text transform="translate(1255.3,294.2) scale(0.92,1)" font-size="9.75px" fill="#fff" stroke="#fff" stroke-width="0.15" text-anchor="start">14.740</text><text transform="translate(1255.3,327.2) scale(0.92,1)" font-size="9.75px" fill="#fff" stroke="#fff" stroke-width="0.15" text-anchor="start">14.340</text><text transform="translate(1255.3,360.2) scale(0.92,1)" font-size="9.75px" fill="#fff" stroke="#fff" stroke-width="0.15" text-anchor="start">13.930</text><text transform="translate(1255.3,393.2) scale(0.92,1)" font-size="9.75px" fill="#fff" stroke="#fff" stroke-width="0.15" text-anchor="start">13.530</text><text transform="translate(1253,405.6) scale(0.92,1)" font-size="9.75px" fill="#fff" stroke="#fff" stroke-width="0.15" text-anchor="start">0.5465</text><text transform="translate(1253,520) scale(0.92,1)" font-size="9.75px" fill="#fff" stroke="#fff" stroke-width="0.15" text-anchor="start">0.00</text><text transform="translate(1252.7,585.2) scale(0.92,1)" font-size="9.75px" fill="#fff" stroke="#fff" stroke-width="0.15" text-anchor="start">-0.3297</text><text transform="translate(1.0,601) scale(0.935,1)" font-size="9.75px" fill="#fff" stroke="#fff" stroke-width="0.15" text-anchor="start">14 Dec 2015</text><text transform="translate(65.0,601) scale(0.935,1)" font-size="9.75px" fill="#fff" stroke="#fff" stroke-width="0.15" text-anchor="start">24 Dec 2015</text><text transform="translate(129.0,601) scale(0.935,1)" font-size="9.75px" fill="#fff" stroke="#fff" stroke-width="0.15" text-anchor="start">7 Jan 2016</text><text transform="translate(193.0,601) scale(0.935,1)" font-size="9.75px" fill="#fff" stroke="#fff" stroke-width="0.15" text-anchor="start">19 Jan 2016</text><text transform="translate(257.0,601) scale(0.935,1)" font-size="9.75px" fill="#fff" stroke="#fff" stroke-width="0.15" text-anchor="start">29 Jan 2016</text><text transform="translate(321.0,601) scale(0.935,1)" font-size="9.75px" fill="#fff" stroke="#fff" stroke-width="0.15" text-anchor="start">10 Feb 2016</text><text transform="translate(385.0,601) scale(0.935,1)" font-size="9.75px" fill="#fff" stroke="#fff" stroke-width="0.15" text-anchor="start">22 Feb 2016</text><text transform="translate(449.0,601) scale(0.935,1)" font-size="9.75px" fill="#fff" stroke="#fff" stroke-width="0.15" text-anchor="start">3 Mar 2016</text><text transform="translate(513.0,601) scale(0.935,1)" font-size="9.75px" fill="#fff" stroke="#fff" stroke-width="0.15" text-anchor="start">15 Mar 2016</text><text transform="translate(577.0,601) scale(0.935,1)" font-size="9.75px" fill="#fff" stroke="#fff" stroke-width="0.15" text-anchor="start">28 Mar 2016</text><text transform="translate(641.0,601) scale(0.935,1)" font-size="9.75px" fill="#fff" stroke="#fff" stroke-width="0.15" text-anchor="start">7 Apr 2016</text><text transform="translate(705.0,601) scale(0.935,1)" font-size="9.75px" fill="#fff" stroke="#fff" stroke-width="0.15" text-anchor="start">19 Apr 2016</text><text transform="translate(769.0,601) scale(0.935,1)" font-size="9.75px" fill="#fff" stroke="#fff" stroke-width="0.15" text-anchor="start">29 Apr 2016</text><text transform="translate(833.0,601) scale(0.935,1)" font-size="9.75px" fill="#fff" stroke="#fff" stroke-width="0.15" text-anchor="start">11 May 2016</text><text transform="translate(897.0,601) scale(0.935,1)" font-size="9.75px" fill="#fff" stroke="#fff" stroke-width="0.15" text-anchor="start">23 May 2016</text><text transform="translate(961.0,601) scale(0.935,1)" font-size="9.75px" fill="#fff" stroke="#fff" stroke-width="0.15" text-anchor="start">2 Jun 2016</text><text transform="translate(-5.5,17) scale(0.92,1)" font-size="9.75px" fill="#fff" stroke="#fff" stroke-width="0.15" text-anchor="start">Daily</text><text transform="translate(23.4,17) scale(0.92,1)" font-size="9.75px" fill="#fff" stroke="#fff" stroke-width="0.15" text-anchor="start">16.360</text><text transform="translate(54.4,17) scale(0.92,1)" font-size="9.75px" fill="#fff" stroke="#fff" stroke-width="0.15" text-anchor="start">16.429</text><text transform="translate(85.5,17) scale(0.92,1)" font-size="9.75px" fill="#fff" stroke="#fff" stroke-width="0.15" text-anchor="start">16.354</text><text transform="translate(116.5,17) scale(0.92,1)" font-size="9.75px" fill="#fff" stroke="#fff" stroke-width="0.15" text-anchor="start">16.423</text><text transform="translate(-1,408) scale(0.92,1)" font-size="9.75px" fill="#fff" stroke="#fff" stroke-width="0.15" text-anchor="start">)</text><text transform="translate(5.8,408) scale(0.92,1)" font-size="9.75px" fill="#fff" stroke="#fff" stroke-width="0.15" text-anchor="start">-0.0813</text><text transform="translate(39.8,408) scale(0.92,1)" font-size="9.75px" fill="#fff" stroke="#fff" stroke-width="0.15" text-anchor="start">-0.0813</text><rect x="1252" y="148" width="34" height="11" fill="#fff" shape-rendering="crispEdges"/>
<text transform="translate(1255.3,156.9) scale(0.92,1)" font-size="9.75px" fill="#000" stroke="#000" stroke-width="0.15" text-anchor="start">16.423</text><text transform="translate(1247.5,23) scale(0.92,1)" font-size="9.75px" fill="#ffff00" stroke="#ffff00" stroke-width="0.15" text-anchor="end">100.0</text><text transform="translate(1247.5,159) scale(0.92,1)" font-size="9.75px" fill="#ffff00" stroke="#ffff00" stroke-width="0.15" text-anchor="end">61.8</text><text transform="translate(1247.5,201) scale(0.92,1)" font-size="9.75px" fill="#ffff00" stroke="#ffff00" stroke-width="0.15" text-anchor="end">50.0</text><text transform="translate(1247.5,244) scale(0.92,1)" font-size="9.75px" fill="#ffff00" stroke="#ffff00" stroke-width="0.15" text-anchor="end">38.2</text><text transform="translate(1247.5,296) scale(0.92,1)" font-size="9.75px" fill="#ffff00" stroke="#ffff00" stroke-width="0.15" text-anchor="end">23.6</text><text transform="translate(1247.5,380) scale(0.92,1)" font-size="9.75px" fill="#ffff00" stroke="#ffff00" stroke-width="0.15" text-anchor="end">0.0</text>
<text x="997.2" y="102" font-size="21.6px" font-weight="bold" fill="#ff0000" textLength="226.7" lengthAdjust="spacing" style="font-family:'Liberation Serif','Noto Serif CJK SC',serif">日内关注趋势线阻力和</text>
<text x="972.2" y="129" font-size="21.6px" font-weight="bold" fill="#ff0000" textLength="90.7" lengthAdjust="spacing" style="font-family:'Liberation Serif','Noto Serif CJK SC',serif">前期高点</text>
<text x="1063.6" y="127.8" font-size="20.5px" font-weight="bold" fill="#ff0000" textLength="41" lengthAdjust="spacingAndGlyphs">3.49</text>
<text x="1106.2" y="129" font-size="21.6px" font-weight="bold" fill="#ff0000" textLength="68" lengthAdjust="spacing" style="font-family:'Liberation Serif','Noto Serif CJK SC',serif">的突破</text>
<text x="1145.2" y="235" font-size="21.6px" font-weight="bold" fill="#ff0000" textLength="113.4" lengthAdjust="spacing" style="font-family:'Liberation Serif','Noto Serif CJK SC',serif">强弱支撑位</text>
<text x="942.2" y="460" font-size="21.6px" font-weight="bold" fill="#ff0000" textLength="181.4" lengthAdjust="spacing" style="font-family:'Liberation Serif','Noto Serif CJK SC',serif">动能指标开始收量</text>
<text x="929.2" y="487" font-size="21.6px" font-weight="bold" fill="#ff0000" textLength="204" lengthAdjust="spacing" style="font-family:'Liberation Serif','Noto Serif CJK SC',serif">买盘力量正逐步恢复</text>
<text x="1212" y="345.5" font-size="9.2px" fill="#ffff00" stroke="#ffff00" stroke-width="0.3" textLength="36.2" lengthAdjust="spacing" style="font-family:'Liberation Sans','Noto Sans CJK SC',sans-serif">支撑阻力</text>
</svg>
</body></html>
